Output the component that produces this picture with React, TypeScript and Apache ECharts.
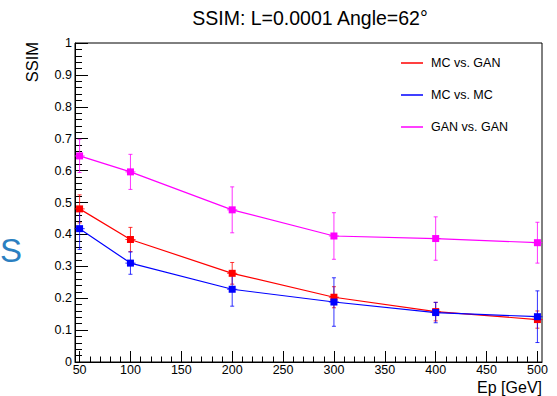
import React, { useEffect, useRef } from "react";
import * as echarts from "echarts";

// Energies (x) in GeV
const xValues = [50, 100, 200, 300, 400, 500];
const xErr = [5, 5, 5, 5, 5, 5];

// MC vs. GAN (red)
const mcVsGan = [0.48, 0.384, 0.278, 0.203, 0.158, 0.133];
const mcVsGanErr = [0.044, 0.038, 0.034, 0.033, 0.029, 0.027];

// MC vs. MC (blue)
const mcVsMc = [0.418, 0.31, 0.228, 0.188, 0.155, 0.142];
const mcVsMcErr = [0.065, 0.035, 0.053, 0.076, 0.032, 0.081];

// GAN vs. GAN (magenta)
const ganVsGan = [0.646, 0.596, 0.477, 0.395, 0.387, 0.374];
const ganVsGanErr = [0.052, 0.055, 0.072, 0.073, 0.068, 0.064];

const seriesNames = ["MC vs. GAN", "MC vs. MC", "GAN vs. GAN"];
const seriesColors = ["#ff0000", "#0000ff", "#ff00ff"];

const xMajorTicks = [50, 100, 150, 200, 250, 300, 350, 400, 450, 500];
const xMinorTicks = [
  60, 70, 80, 90, 110, 120, 130, 140, 160, 170, 180, 190, 210, 220, 230, 240,
  260, 270, 280, 290, 310, 320, 330, 340, 360, 370, 380, 390, 410, 420, 430,
  440, 460, 470, 480, 490,
];

const titleText = "SSIM: L=0.0001 Angle=62\u00b0";
const yTitle = "SSIM";
const xTitle = "Ep [GeV]";

const FONT = "'Liberation Sans', Arial, Helvetica, sans-serif";

function makeErrSeries(name: string, color: string, vals: number[], errs: number[]) {
  return {
    type: "custom",
    name: name + " err",
    xAxisIndex: 0,
    yAxisIndex: 0,
    clip: false,
    data: xValues.map((x, i) => [x, vals[i], errs[i], xErr[i]]),
    encode: { x: 0, y: 1 },
    renderItem: (params: any, api: any) => {
      const x = api.value(0);
      const y = api.value(1);
      const e = api.value(2);
      const ex = api.value(3);
      const c = api.coord([x, y]);
      const t = api.coord([x, y + e]);
      const b = api.coord([x, y - e]);
      const l = api.coord([x - ex, y]);
      const r = api.coord([x + ex, y]);
      const style = { stroke: color, lineWidth: 1, opacity: 0.8 };
      return {
        type: "group",
        children: [
          { type: "line", shape: { x1: c[0], y1: t[1], x2: c[0], y2: b[1] }, style },
          { type: "line", shape: { x1: c[0] - 2, y1: t[1], x2: c[0] + 2, y2: t[1] }, style },
          { type: "line", shape: { x1: c[0] - 2, y1: b[1], x2: c[0] + 2, y2: b[1] }, style },
          { type: "line", shape: { x1: l[0], y1: c[1], x2: r[0], y2: c[1] }, style },
        ],
      };
    },
  };
}

function makeLineSeries(name: string, color: string, vals: number[]) {
  return {
    type: "line",
    name,
    xAxisIndex: 0,
    yAxisIndex: 0,
    data: xValues.map((x, i) => [x, vals[i]]),
    symbol: "rect",
    symbolSize: 7,
    color,
    itemStyle: { color },
    lineStyle: { color, width: 1.2 },
  };
}

export default function App() {
  const ref = useRef<HTMLDivElement>(null);
  useEffect(() => {
    if (!ref.current) return;
    const chart = echarts.init(ref.current, undefined, { renderer: "svg" });
    const allVals = [mcVsGan, mcVsMc, ganVsGan];
    const allErrs = [mcVsGanErr, mcVsMcErr, ganVsGanErr];
    const series: any[] = [];
    for (let k = 0; k < 3; k++) {
      series.push(makeErrSeries(seriesNames[k], seriesColors[k], allVals[k], allErrs[k]));
      series.push(makeLineSeries(seriesNames[k], seriesColors[k], allVals[k]));
    }
    const option: any = {
      animation: false,
      backgroundColor: "#ffffff",
      textStyle: { fontFamily: FONT },
      grid: {
        left: 75,
        right: 15,
        top: 43,
        bottom: 34,
        show: true,
        borderColor: "#000",
        borderWidth: 1,
        backgroundColor: "transparent",
        containLabel: false,
      },
      legend: {
        data: seriesNames.map((n) => ({ name: n, icon: "rect" })),
        orient: "vertical",
        left: 396,
        top: 50,
        itemWidth: 22,
        itemHeight: 1.5,
        itemGap: 16,
        selectedMode: false,
        textStyle: {
          fontFamily: FONT,
          fontSize: 12.5,
          color: "#000",
          lineHeight: 16,
          padding: [0, 0, 0, 3],
        },
      },
      xAxis: [
        {
          type: "value",
          min: 45.5,
          max: 504.5,
          position: "bottom",
          axisLine: { show: true, onZero: false, lineStyle: { color: "#000", width: 1 } },
          axisTick: {
            show: true,
            inside: true,
            length: 11,
            customValues: xMajorTicks,
            lineStyle: { color: "#000", width: 1 },
          },
          axisLabel: {
            show: true,
            customValues: xMajorTicks,
            margin: 1,
            fontFamily: FONT,
            fontSize: 12.5,
            color: "#000",
          },
          splitLine: { show: false },
        },
        {
          type: "value",
          min: 45.5,
          max: 504.5,
          position: "bottom",
          axisLine: { show: false, onZero: false },
          axisTick: {
            show: true,
            inside: true,
            length: 5.5,
            customValues: xMinorTicks,
            lineStyle: { color: "#000", width: 1 },
          },
          axisLabel: { show: false },
          splitLine: { show: false },
        },
      ],
      yAxis: {
        type: "value",
        min: 0,
        max: 1,
        interval: 0.1,
        axisLine: { show: true, onZero: false, lineStyle: { color: "#000", width: 1 } },
        axisTick: { show: true, inside: true, length: 13, lineStyle: { color: "#000", width: 1 } },
        minorTick: { show: true, splitNumber: 5, length: 7, lineStyle: { color: "#000", width: 1 } },
        axisLabel: { margin: 3, fontFamily: FONT, fontSize: 12.5, color: "#000" },
        splitLine: { show: false },
        minorSplitLine: { show: false },
      },
      graphic: [
        {
          type: "text",
          x: 310,
          y: 18,
          style: {
            text: titleText,
            fontFamily: FONT,
            fontSize: 19.5,
            fill: "#000",
            textAlign: "center",
            textVerticalAlign: "middle",
          },
        },
        {
          type: "text",
          x: 32,
          y: 42,
          rotation: Math.PI / 2,
          style: {
            text: yTitle,
            fontFamily: FONT,
            fontSize: 16.5,
            fill: "#000",
            textAlign: "right",
            textVerticalAlign: "middle",
          },
        },
        {
          type: "text",
          x: 542,
          y: 387,
          style: {
            text: xTitle,
            fontFamily: FONT,
            fontSize: 16,
            fill: "#000",
            textAlign: "right",
            textVerticalAlign: "middle",
          },
        },
        {
          type: "text",
          x: 0,
          y: 250,
          style: {
            text: "S",
            fontFamily: FONT,
            fontSize: 33,
            fill: "#2b7fc1",
            textAlign: "left",
            textVerticalAlign: "middle",
          },
        },
      ],
      series,
    };
    chart.setOption(option);
    return () => chart.dispose();
  }, []);
  return (
    <div
      ref={ref}
      style={{ position: "fixed", left: 0, top: 0, width: 557, height: 396, background: "#fff" }}
    />
  );
}
